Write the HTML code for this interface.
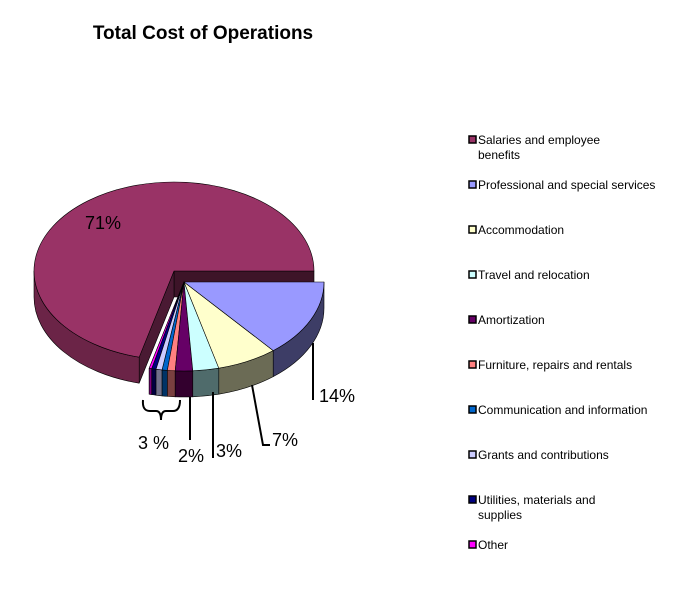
<!DOCTYPE html>
<html><head><meta charset="utf-8">
<style>
html,body{margin:0;padding:0;background:#fff;}
body{width:674px;height:601px;overflow:hidden;position:relative;font-family:"Liberation Sans",Arial,sans-serif;}
svg{position:absolute;left:0;top:0;}
</style></head>
<body>
<svg id="chart" width="674" height="601" viewBox="0 0 674 601">
  <text x="203" y="39" text-anchor="middle" font-size="19" font-weight="bold" fill="#000">Total Cost of Operations</text>
  <g id="pie"></g>
  <g id="labels" font-size="18" fill="#000">
    <text x="85" y="229">71%</text>
    <line x1="313" y1="343" x2="313" y2="400" stroke="#000" stroke-width="2"/>
    <text x="319" y="402">14%</text>
    <polyline points="252,385 263,445 270,445" fill="none" stroke="#000" stroke-width="2"/>
    <text x="272" y="446">7%</text>
    <line x1="213" y1="392" x2="213" y2="458" stroke="#000" stroke-width="2"/>
    <text x="216" y="457">3%</text>
    <line x1="190" y1="397" x2="190" y2="440" stroke="#000" stroke-width="2"/>
    <text x="178" y="462">2%</text>
    <path d="M143,400 Q142,411 150,411 L156,411 Q161,411 161,420 Q161,411 166,411 L173,411 Q180,411 180,400" fill="none" stroke="#000" stroke-width="2"/>
    <text x="138" y="449">3 %</text>
  </g>
  <g id="legend" font-size="12" fill="#000"></g>
</svg>
<script>
const categories = ["Salaries and employee benefits","Professional and special services","Accommodation","Travel and relocation","Amortization","Furniture, repairs and rentals","Communication and information","Grants and contributions","Utilities, materials and supplies","Other"];
const values = [71, 14, 7, 3, 2, 0.9, 0.6, 0.7, 0.5, 0.3];
const colors = ["#993366","#9999ff","#ffffcc","#ccffff","#660066","#ff8080","#0066cc","#ccccff","#000080","#ff00ff"];
const sideColors = ["#6b2447","#3d3d66","#6b6b55","#4f6b6b","#33002e","#7a4040","#003366","#70708a","#000040","#800080"];
const legendLines = [["Salaries and employee","benefits"],["Professional and special services"],["Accommodation"],["Travel and relocation"],["Amortization"],["Furniture, repairs and rentals"],["Communication and information"],["Grants and contributions"],["Utilities, materials and","supplies"],["Other"]];

const NS = "http://www.w3.org/2000/svg";
const pieG = document.getElementById("pie");
const rx = 140, ry = 89, depth = 26;
const mainC = {x:174, y:271}, expC = {x:184, y:282};
const total = values.reduce((a,b)=>a+b,0);
function pt(c, deg, dy){ const r = deg*Math.PI/180; return [c.x + rx*Math.cos(r), c.y - ry*Math.sin(r) + (dy||0)]; }
function fmt(p){ return p[0].toFixed(2)+","+p[1].toFixed(2); }
function mk(d, fill, name){
  const p = document.createElementNS(NS,"path");
  p.setAttribute("d", d); p.setAttribute("fill", fill);
  p.setAttribute("stroke", "#000"); p.setAttribute("stroke-width", "0.6"); p.setAttribute("stroke-linejoin","round");
  
  
  pieG.appendChild(p); return p;
}
function sideWall(c, a1, a2, fill, name){
  const lo = Math.max(a1,180), hi = Math.min(a2,360);
  if (hi <= lo) return;
  const large = (hi-lo) > 180 ? 1 : 0;
  const d = "M"+fmt(pt(c,lo))+" A"+rx+","+ry+" 0 "+large+" 0 "+fmt(pt(c,hi))+" L"+fmt(pt(c,hi,depth))+" A"+rx+","+ry+" 0 "+large+" 1 "+fmt(pt(c,lo,depth))+" Z";
  mk(d, fill, name);
}
function radialWall(c, a, fill, name){
  const d = "M"+c.x+","+c.y+" L"+fmt(pt(c,a))+" L"+fmt(pt(c,a,depth))+" L"+c.x+","+(c.y+depth)+" Z";
  mk(d, fill, name);
}
function drawTop(c, a1, a2, fill, name){
  const large = (a2-a1) > 180 ? 1 : 0;
  const d = "M"+c.x+","+c.y+" L"+fmt(pt(c,a1))+" A"+rx+","+ry+" 0 "+large+" 0 "+fmt(pt(c,a2))+" Z";
  mk(d, fill, name);
}
const angles = []; let acc = 0;
const order = [0,9,8,7,6,5,4,3,2,1];
order.forEach(i => { const a1 = acc/total*360; acc += values[i]; angles[i] = [a1, acc/total*360]; });
const m = angles[0];
radialWall(mainC, m[0], "#3d1428", "salaries-inner-wall");
radialWall(mainC, m[1], "#4a1a33", "salaries-end-wall");
sideWall(mainC, m[0], m[1], sideColors[0], "salaries-side");
drawTop(mainC, m[0], m[1], colors[0], "slice-salaries");
const expOrder = order.slice(1);
radialWall(expC, angles[expOrder[0]][0], sideColors[expOrder[0]], "exploded-start-wall");
expOrder.forEach(i => sideWall(expC, angles[i][0], angles[i][1], sideColors[i], "side-"+i));
expOrder.forEach(i => drawTop(expC, angles[i][0], angles[i][1], colors[i], "slice-"+categories[i].split(/[ ,]/)[0].toLowerCase()));

const lg = document.getElementById("legend");
const ys = [140,185,230,275,320,365,410,455,500,545];
categories.forEach((c,i) => {
  const r = document.createElementNS(NS,"rect");
  r.setAttribute("x", 469); r.setAttribute("y", ys[i]-4); r.setAttribute("width", 7); r.setAttribute("height", 7);
  r.setAttribute("fill", colors[i]); r.setAttribute("stroke", "#000"); r.setAttribute("stroke-width", "1.5");
  
  
  lg.appendChild(r);
  legendLines[i].forEach((ln, k) => {
    const t = document.createElementNS(NS,"text");
    t.setAttribute("x", 478); t.setAttribute("y", ys[i] + 4 + k*15);
    t.textContent = ln;
    
    
    lg.appendChild(t);
  });
});
</script>
</body></html>
